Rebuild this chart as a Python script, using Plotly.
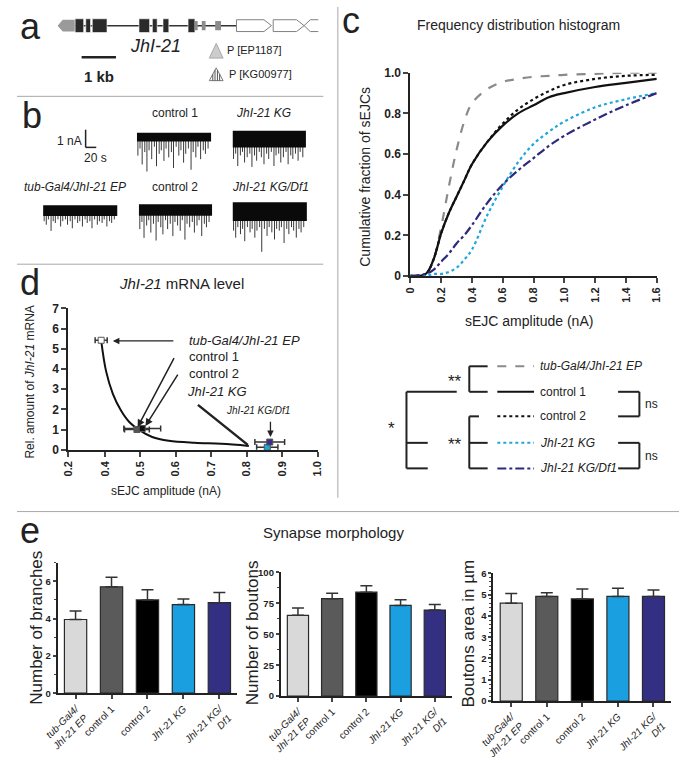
import plotly.graph_objects as go

W, H = 685, 763
FONT = "Liberation Sans, Arial, sans-serif"
INK = "#222222"
RULE = "#a8a8a8"

# ---------------- data ----------------
# a: gene model, positions in kb along the drawn locus
coding_exons = [(0.51, 0.76), (0.82, 0.96), (1.01, 1.44), (2.37, 2.68),
                (2.76, 2.90), (3.07, 3.24), (3.80, 4.00)]
utr_exons = [(4.00, 4.08), (4.20, 4.31), (4.59, 4.76)]
first_exon_utr = (0.0, 0.51)
neighbour_genes = [(5.21, 6.23), (6.28, 7.18)]
next_gene_start = 7.18
insertion_kb = 4.62
scale_bar_kb = (0.70, 1.70)

# b: example sEJC recordings (time in s, current in nA)
trace_len_s = 140
spike_t = [2, 6, 10, 15, 19, 23, 28, 33, 37, 42, 46, 51, 55, 60, 65,
           69, 74, 79, 83, 88, 92, 97, 102, 106, 111, 115, 120, 125, 129, 134]
trace_labels = ["control 1", "<i>JhI-21 KG</i>", "<i>tub-Gal4/JhI-21 EP</i>",
                "control 2", "<i>JhI-21 KG/Df1</i>"]
noise_band = [0.5, 0.95, 0.6, 0.65, 1.05]
spikes_control1 = [1.3, 0.9, 1.8, 1.1, 2.2, 1.0, 1.5, 0.8, 1.9, 1.2, 1.0, 1.6, 0.9, 1.4, 1.1,
                   2.0, 0.8, 1.3, 1.0, 1.7, 1.2, 0.9, 2.1, 1.1, 1.4, 0.8, 1.5, 1.0, 1.2, 0.9]
spikes_kg = [1.6, 1.3, 2.0, 1.4, 1.2, 1.8, 1.5, 1.3, 2.05, 1.4, 1.7, 1.2, 1.5, 1.9, 1.3,
             1.6, 1.2, 2.0, 1.4, 1.3, 1.8, 1.5, 1.2, 1.9, 1.4, 1.6, 1.3, 1.7, 1.2, 1.5]
spikes_ep = [0.9, 1.1, 0.8, 1.45, 0.9, 1.0, 0.8, 1.2, 0.9, 0.8, 1.1, 0.9, 1.3, 0.8, 1.0,
             0.9, 1.2, 0.8, 1.0, 0.9, 1.3, 0.8, 1.1, 0.9, 1.0, 0.8, 1.2, 0.9, 1.0, 0.8]
spikes_control2 = [1.4, 1.0, 1.9, 1.2, 0.9, 1.6, 1.1, 2.05, 1.0, 1.3, 1.7, 0.9, 1.4, 1.1, 1.8,
                   1.0, 1.2, 1.5, 0.9, 2.0, 1.1, 1.3, 1.0, 1.6, 1.2, 0.9, 1.8, 1.1, 1.3, 1.0]
spikes_df1 = [1.6, 2.0, 1.4, 1.8, 1.5, 2.2, 1.4, 1.7, 1.5, 2.0, 1.6, 1.4, 2.8, 1.5, 1.9,
              1.4, 1.7, 2.1, 1.5, 1.6, 1.4, 2.3, 1.5, 1.8, 1.4, 1.6, 2.0, 1.5, 1.7, 1.4]
trace_spikes = [spikes_control1, spikes_kg, spikes_ep, spikes_control2, spikes_df1]

# c: cumulative distributions of sEJC amplitude
amp_nA = [0, 0.1, 0.15, 0.2, 0.25, 0.3, 0.35, 0.4, 0.5, 0.6, 0.7, 0.8, 0.9, 1.0, 1.2, 1.4, 1.6]
cum_ep = [0, 0.01, 0.08, 0.24, 0.44, 0.62, 0.76, 0.85, 0.92, 0.955, 0.97, 0.98, 0.985, 0.99, 0.995, 1.0, 1.0]
cum_control1 = [0, 0.01, 0.08, 0.21, 0.31, 0.39, 0.47, 0.55, 0.66, 0.74, 0.80, 0.84, 0.88, 0.90, 0.93, 0.95, 0.97]
cum_control2 = [0, 0.01, 0.08, 0.21, 0.31, 0.39, 0.47, 0.55, 0.66, 0.75, 0.82, 0.87, 0.91, 0.94, 0.97, 0.985, 0.99]
cum_kg = [0, 0, 0.01, 0.01, 0.02, 0.04, 0.08, 0.13, 0.30, 0.44, 0.56, 0.65, 0.71, 0.76, 0.83, 0.87, 0.90]
cum_df1 = [0, 0.01, 0.03, 0.07, 0.11, 0.16, 0.20, 0.25, 0.36, 0.45, 0.52, 0.58, 0.64, 0.69, 0.77, 0.84, 0.90]
c_ticks = [0, 0.2, 0.4, 0.6, 0.8, 1.0, 1.2, 1.4, 1.6]
c_ticktext = ["0", "0.2", "0.4", "0.6", "0.8", "1.0", "1.2", "1.4", "1.6"]
c_yticks = [0, 0.2, 0.4, 0.6, 0.8, 1.0]
c_yticktext = ["0", "0.2", "0.4", "0.6", "0.8", "1.0"]

# d: mRNA level vs mean sEJC amplitude
d_amp = [0.389, 0.49, 0.505, 0.858, 0.865]
d_amp_err = [0.017, 0.035, 0.052, 0.03, 0.042]
d_mrna = [5.42, 1.0, 1.05, 0.12, 0.38]
d_fill = ["white", "#555555", "#111111", "#1fa6dc", "#3a2f8c"]
fit_amp = [0.389, 0.403, 0.422, 0.445, 0.469, 0.497, 0.533, 0.58, 0.653, 0.728, 0.806]
fit_mrna = [5.42, 3.88, 2.77, 1.94, 1.36, 0.97, 0.63, 0.44, 0.34, 0.29, 0.19]
d_ticks = [0.296, 0.4, 0.5, 0.6, 0.7, 0.8, 0.9, 1.0]   # axis is broken between 0.2 and 0.4
d_ticktext = ["0.2", "0.4", "0.5", "0.6", "0.7", "0.8", "0.9", "1.0"]

# e: synapse morphology
genotypes = ["<i>tub-Gal4/<br>JhI-21 EP</i>", "control 1", "control 2",
             "<i>JhI-21 KG</i>", "<i>JhI-21 KG/<br>Df1</i>"]
bar_colors = ["#d9d9d9", "#5a5a5a", "#000000", "#1aa0e0", "#332f82"]
branches_mean = [3.95, 5.7, 5.0, 4.75, 4.85]
branches_sem = [0.45, 0.52, 0.55, 0.3, 0.55]
boutons_mean = [65.3, 78.8, 84.0, 73.3, 69.6]
boutons_sem = [6.0, 4.4, 5.2, 4.7, 4.5]
area_mean = [4.6, 4.92, 4.8, 4.92, 4.92]
area_sem = [0.45, 0.17, 0.47, 0.38, 0.3]


def xdom(a, b):
    return [a / W, b / W]


def ydom(top, bottom):
    return [1 - bottom / H, 1 - top / H]


annotations = []
shapes = []


def label(x, y, s, size=12, xanchor="center", angle=0, ref=("paper", "paper"), weight="normal"):
    if ref[0] == "paper":
        x = x / W
    if ref[1] == "paper":
        y = 1 - y / H
    annotations.append(dict(x=x, y=y, xref=ref[0], yref=ref[1], text=s, showarrow=False,
                            xanchor=xanchor, yanchor="middle", textangle=angle,
                            font=dict(family=FONT, size=size, color=INK, weight=weight)))


def pline(x0, y0, x1, y1, color=INK, width=2, dash="solid"):
    shapes.append(dict(type="line", xref="paper", yref="paper", x0=x0 / W, x1=x1 / W,
                       y0=1 - y0 / H, y1=1 - y1 / H, line=dict(color=color, width=width, dash=dash)))


fig = go.Figure()
layout_axes = {}

# ---------------- panel a ----------------
layout_axes["xaxis"] = dict(domain=xdom(42, 312), range=[0, 7.6], visible=False, anchor="y")
layout_axes["yaxis"] = dict(domain=ydom(5, 80), range=[-4.357, 1.0], visible=False, anchor="x")

shapes.append(dict(type="line", xref="x", yref="y", x0=0.3, x1=neighbour_genes[0][0], y0=0, y1=0,
                   line=dict(color="#333333", width=1.5)))
u0, u1 = first_exon_utr
shapes.append(dict(type="path", xref="x", yref="y", fillcolor="#9a9a9a", line=dict(width=0),
                   path=f"M {u0},0 L {u0 + 0.15},0.43 L {u1},0.43 L {u1},-0.43 L {u0 + 0.15},-0.43 Z"))
for a, b in coding_exons:
    shapes.append(dict(type="rect", xref="x", yref="y", x0=a, x1=b, y0=-0.5, y1=0.5,
                       fillcolor="#2a2a2a", line=dict(color="white", width=0.6)))
for a, b in utr_exons:
    shapes.append(dict(type="rect", xref="x", yref="y", x0=a, x1=b, y0=-0.34, y1=0.34,
                       fillcolor="#8c8c8c", line=dict(width=0)))
for a, b in neighbour_genes:
    shapes.append(dict(type="path", xref="x", yref="y", fillcolor="white",
                       line=dict(color="#808080", width=1),
                       path=f"M {a},0.43 L {b - 0.22},0.43 L {b},0 L {b - 0.22},-0.43 L {a},-0.43 Z"))
g = next_gene_start
shapes.append(dict(type="path", xref="x", yref="y", line=dict(color="#808080", width=1),
                   path=f"M 7.6,0.43 L {g + 0.18},0.43 L {g},0 L {g + 0.18},-0.43 L 7.6,-0.43"))

# insertion triangles
tri_w = 0.2
shapes.append(dict(type="path", xref="x", yref="y", fillcolor="#cccccc", line=dict(color="#aaaaaa", width=1),
                   path=f"M {insertion_kb - tri_w},-2.36 L {insertion_kb},-1.29 L {insertion_kb + tri_w},-2.36 Z"))
apex, base = -3.07, -4.0
shapes.append(dict(type="path", xref="x", yref="y", fillcolor="white", line=dict(color="#777777", width=1),
                   path=f"M {insertion_kb - tri_w},{base} L {insertion_kb},{apex} L {insertion_kb + tri_w},{base} Z"))
for off in [-0.1, -0.035, 0.035, 0.1]:
    top = base + (apex - base) * (1 - abs(off) / tri_w)
    shapes.append(dict(type="line", xref="x", yref="y", x0=insertion_kb + off, x1=insertion_kb + off,
                       y0=base, y1=top, line=dict(color="#555555", width=1)))

shapes.append(dict(type="line", xref="x", yref="y", x0=scale_bar_kb[0], x1=scale_bar_kb[1],
                   y0=-2.29, y1=-2.29, line=dict(color=INK, width=2.5)))
label(sum(scale_bar_kb) / 2, -3.71, "1 kb", size=15, ref=("x", "y"), weight="bold")
label(2.85, -1.5, "<i>JhI-21</i>", size=18, ref=("x", "y"))
label(insertion_kb + 0.25, -1.79, "P [EP1187]", size=11, xanchor="left", ref=("x", "y"))
label(insertion_kb + 0.3, -3.5, "P [KG00977]", size=11, xanchor="left", ref=("x", "y"))

# ---------------- panel b ----------------
px_per_nA = 18
trace_boxes = [(124, 201, 128), (223, 299, 126), (27, 104, 202), (126, 202, 201), (223, 300, 199)]
trace_label_pos = [(163, 108), (255, 108), (60, 183), (164, 183), (262, 183)]
for i, ((x0, x1, top), band, amps) in enumerate(zip(trace_boxes, noise_band, trace_spikes)):
    n = i + 2
    layout_axes[f"xaxis{n}"] = dict(domain=xdom(x0, x1), range=[0, trace_len_s], visible=False, anchor=f"y{n}")
    layout_axes[f"yaxis{n}"] = dict(domain=ydom(top - 0.2 * px_per_nA, top + 4.0 * px_per_nA),
                                    range=[-4.0, 0.2], visible=False, anchor=f"x{n}")
    xs, ys = [], []
    for t, a in zip(spike_t, amps):
        xs += [t, t, None]
        ys += [-band * 0.5, -a, None]
    fig.add_trace(go.Scatter(x=xs, y=ys, mode="lines", line=dict(color="#3a3a3a", width=1),
                             xaxis=f"x{n}", yaxis=f"y{n}", hoverinfo="skip"))
    fig.add_trace(go.Scatter(x=[0, trace_len_s, trace_len_s, 0], y=[0, 0, -band, -band],
                             fill="toself", fillcolor="#0a0a0a", mode="lines", line=dict(width=0),
                             xaxis=f"x{n}", yaxis=f"y{n}", hoverinfo="skip"))
    label(*trace_label_pos[i], trace_labels[i], size=12)

pline(71, 125, 71, 143, width=1.5)
pline(71, 143, 82, 143, width=1.5)
label(69, 136, "1 nA", size=12, xanchor="right")
label(81, 154, "20 s", size=12)

# ---------------- panel c ----------------
layout_axes["xaxis7"] = dict(domain=xdom(407, 662), range=[0, 1.6], anchor="y7",
                             tickvals=c_ticks, ticktext=c_ticktext, tickangle=-90,
                             ticks="outside", ticklen=5, tickwidth=1.5, showline=True, linewidth=2,
                             linecolor=INK, showgrid=False, zeroline=False,
                             tickfont=dict(size=11, weight="bold", color=INK, family=FONT))
layout_axes["yaxis7"] = dict(domain=ydom(67, 274), range=[0, 1.0], anchor="x7",
                             tickvals=c_yticks, ticktext=c_yticktext,
                             ticks="outside", ticklen=5, tickwidth=1.5, showline=True, linewidth=2,
                             linecolor=INK, showgrid=False, zeroline=False,
                             tickfont=dict(size=12, weight="bold", color=INK, family=FONT))
c_series = [
    (cum_ep, "#8a8a8a", "dash", 2.2),
    (cum_control1, "#111111", "solid", 2.2),
    (cum_control2, "#111111", "dot", 2.2),
    (cum_kg, "#1fa6dc", "dot", 2.2),
    (cum_df1, "#2c2a7a", "dashdot", 2.2),
]
for ys, col, dash, w in c_series:
    fig.add_trace(go.Scatter(x=amp_nA, y=ys, mode="lines", line=dict(color=col, dash=dash, width=w, shape="spline"),
                             xaxis="x7", yaxis="y7", cliponaxis=False))

label(519, 18, "Frequency distribution histogram", size=14)
label(360, 173, "Cumulative fraction of sEJCs", size=14, angle=-90)
label(530, 320, "sEJC amplitude (nA)", size=14)

# legend with significance brackets
rows = [366, 392, 417, 444, 470]
legend_text = ["<i>tub-Gal4/JhI-21 EP</i>", "control 1", "control 2", "<i>JhI-21 KG</i>", "<i>JhI-21 KG/Df1</i>"]
for (ys, col, dash, w), r, t in zip(c_series, rows, legend_text):
    pline(497, r, 535, r, color=col, width=2, dash=dash)
    label(539, r, t, size=12, xanchor="left")
pline(468, rows[0], 468, rows[1])
pline(468, rows[0], 487, rows[0])
pline(468, rows[1], 487, rows[1])
pline(468, rows[2], 468, rows[4])
pline(468, rows[2], 478, rows[2])
pline(468, rows[3], 487, rows[3])
pline(468, rows[4], 487, rows[4])
pline(403, rows[1], 403, rows[4])
pline(403, rows[1], 455, rows[1])
pline(403, rows[3], 425, rows[3])
pline(403, rows[4], 425, rows[4])
label(453, 382, "**", size=17)
label(453, 446, "**", size=17)
label(388, 429, "*", size=17)
for ra, rb in [(rows[1], rows[2]), (rows[3], rows[4])]:
    pline(622, ra, 644, ra)
    pline(622, rb, 644, rb)
    pline(644, ra, 644, rb)
    label(657, (ra + rb) / 2, "ns", size=12)

# ---------------- panel d ----------------
layout_axes["xaxis8"] = dict(domain=xdom(53, 311), range=[0.296, 1.0], anchor="y8",
                             tickvals=d_ticks, ticktext=d_ticktext, tickangle=-90,
                             ticks="outside", ticklen=5, tickwidth=1.5, showline=True, linewidth=2,
                             linecolor=INK, showgrid=False, zeroline=False,
                             tickfont=dict(size=11, weight="bold", color=INK, family=FONT))
layout_axes["yaxis8"] = dict(domain=ydom(307, 451), range=[0, 7], anchor="x8", dtick=1,
                             ticks="outside", ticklen=5, tickwidth=1.5, showline=True, linewidth=2,
                             linecolor=INK, showgrid=False, zeroline=False,
                             tickfont=dict(size=12, weight="bold", color=INK, family=FONT))
fig.add_trace(go.Scatter(x=fit_amp, y=fit_mrna, mode="lines", line=dict(color="#111111", width=2, shape="spline"),
                         xaxis="x8", yaxis="y8", cliponaxis=False))
fig.add_trace(go.Scatter(x=d_amp, y=d_mrna, mode="markers", xaxis="x8", yaxis="y8", cliponaxis=False,
                         error_x=dict(type="data", array=d_amp_err, color="#333333", thickness=1.5, width=3),
                         marker=dict(symbol="square", size=6, color=d_fill, line=dict(color="#555555", width=1))))

d_arrows = [  # (tail x, tail y, head x, head y, head style, width)
    (0.597, 5.39, 0.422, 5.39, 2, 1.3),
    (0.597, 4.61, 0.492, 1.12, 2, 1.5),
    (0.608, 3.79, 0.514, 1.17, 2, 1.5),
    (0.658, 2.28, 0.803, 0.24, 0, 2.5),
    (0.867, 1.46, 0.867, 0.63, 2, 1.3),
]
for tx, ty, hx, hy, head, w in d_arrows:
    annotations.append(dict(x=hx, y=hy, ax=tx, ay=ty, xref="x8", yref="y8", axref="x8", ayref="y8",
                            text="", showarrow=True, arrowhead=head, arrowwidth=w, arrowsize=1,
                            arrowcolor=INK))
label(0.63, 5.39, "<i>tub-Gal4/JhI-21 EP</i>", size=13, xanchor="left", ref=("x8", "y8"))
label(0.63, 4.61, "control 1", size=13, xanchor="left", ref=("x8", "y8"))
label(0.63, 3.79, "control 2", size=13, xanchor="left", ref=("x8", "y8"))
label(0.625, 2.86, "<i>JhI-21 KG</i>", size=13, xanchor="left", ref=("x8", "y8"))
label(0.736, 1.94, "<i>JhI-21 KG/Df1</i>", size=10, xanchor="left", ref=("x8", "y8"))

label(170, 282, "<i>JhI-21</i> mRNA level", size=15)
label(13, 382, "Rel. amount of <i>JhI-21</i> mRNA", size=12, angle=-90)
label(154, 493, "sEJC amplitude (nA)", size=12)

# ---------------- panel e ----------------
e_panels = [
    ("9", (42, 228), (566, 699), 7, 2, branches_mean, branches_sem, "Number of branches", 20, 632),
    ("10", (273, 450), (576, 702), 100, 25, boutons_mean, boutons_sem, "Number of boutons", 243, 637),
    ("11", (493, 677), (577, 707), 6, 1, area_mean, area_sem, "Boutons area in µm", 467, 638),
]
for n, (xa, xb), (yt, yb), ymax, dt, mean, sem, title, tx, ty in e_panels:
    layout_axes[f"xaxis{n}"] = dict(domain=xdom(xa, xb), anchor=f"y{n}", type="category",
                                    range=[-0.5, 4.5], tickangle=-45, ticks="outside", ticklen=4,
                                    tickwidth=1.5, showline=True, linewidth=2, linecolor=INK,
                                    showgrid=False, tickfont=dict(size=10, color=INK, family=FONT))
    layout_axes[f"yaxis{n}"] = dict(domain=ydom(yt, yb), anchor=f"x{n}", range=[0, ymax], dtick=dt,
                                    ticks="outside", ticklen=3, tickwidth=1.5, showline=True, linewidth=2,
                                    linecolor=INK, showgrid=False, zeroline=False,
                                    minor=dict(ticks="outside", ticklen=2, tickwidth=1, dtick=dt / 2 if dt > 1 else None),
                                    tickfont=dict(size=9.5, weight="bold", color=INK, family=FONT))
    fig.add_trace(go.Bar(x=genotypes, y=mean, width=0.62, xaxis=f"x{n}", yaxis=f"y{n}",
                         marker=dict(color=bar_colors, line=dict(color="#2a2a2a", width=1.2)),
                         error_y=dict(type="data", array=sem, arrayminus=[0] * len(sem), symmetric=False,
                                      color="#333333", thickness=1.5, width=6)))
    label(tx, ty, title, size=17, angle=-90)

label(328, 535, "Synapse morphology", size=15)

# ---------------- frame: panel letters and rules ----------------
label(14, 20, "a", size=36)
label(16, 111, "b", size=36)
label(346, 14, "c", size=36)
label(13, 281, "d", size=36)
label(13, 533, "e", size=36)
pline(0, 91, 317, 91, color=RULE, width=1)
pline(0, 262, 317, 262, color=RULE, width=1)
pline(332, 0, 332, 500, color=RULE, width=1)
pline(0, 514, 685, 514, color=RULE, width=1)

fig.update_layout(
    width=W, height=H, margin=dict(l=0, r=0, t=0, b=0),
    paper_bgcolor="white", plot_bgcolor="rgba(0,0,0,0)", showlegend=False,
    font=dict(family=FONT, color=INK), bargap=0.38,
    annotations=annotations, shapes=shapes, **layout_axes,
)

fig.write_html("out.html", config={"displayModeBar": False},
               post_script="document.body.style.margin='0';")
